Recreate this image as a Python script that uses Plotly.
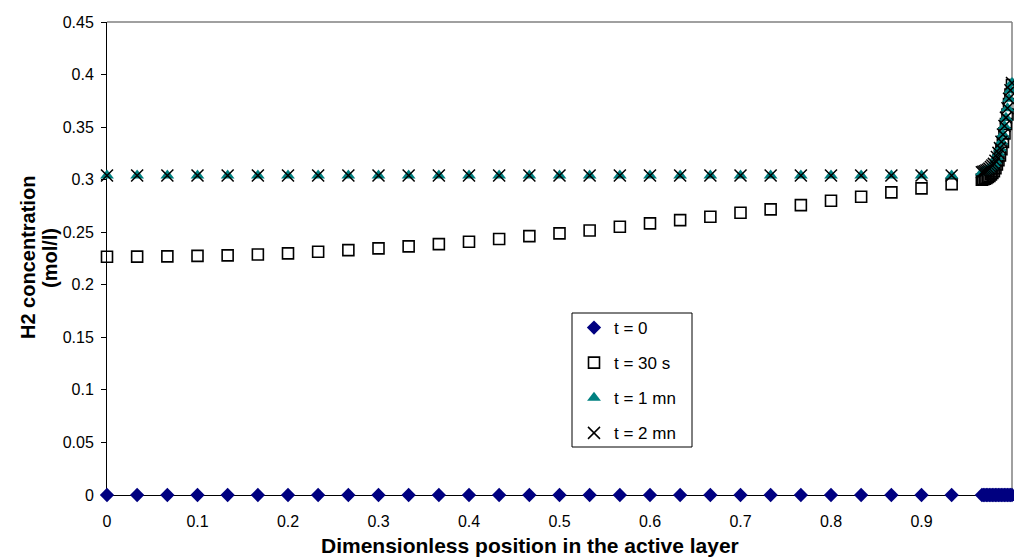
import plotly.graph_objects as go

# ---- data ----
x_coarse = [0.0000, 0.0333, 0.0667, 0.1000, 0.1333, 0.1667, 0.2000, 0.2333, 0.2667, 0.3000,
            0.3333, 0.3667, 0.4000, 0.4333, 0.4667, 0.5000, 0.5333, 0.5667, 0.6000, 0.6333,
            0.6667, 0.7000, 0.7333, 0.7667, 0.8000, 0.8333, 0.8667, 0.9000, 0.9333]
x_fine = [0.9667, 0.9683, 0.9700, 0.9717, 0.9733, 0.9750, 0.9767, 0.9783, 0.9800, 0.9817,
          0.9833, 0.9850, 0.9867, 0.9883, 0.9900, 0.9917, 0.9933, 0.9950, 0.9967, 0.9983, 1.0000]

c_t0_coarse = [0, 0, 0, 0, 0, 0, 0, 0, 0, 0, 0, 0, 0, 0, 0, 0, 0, 0, 0, 0,
               0, 0, 0, 0, 0, 0, 0, 0, 0]
c_t0_fine = [0, 0, 0, 0, 0, 0, 0, 0, 0, 0, 0, 0, 0, 0, 0, 0, 0, 0, 0, 0, 0]

c_30s_coarse = [0.2267, 0.2268, 0.2270, 0.2275, 0.2280, 0.2288, 0.2299, 0.2314, 0.2330, 0.2346,
                0.2365, 0.2387, 0.2410, 0.2435, 0.2463, 0.2489, 0.2517, 0.2552, 0.2584, 0.2615,
                0.2647, 0.2685, 0.2717, 0.2758, 0.2800, 0.2837, 0.2879, 0.2917, 0.2958]
c_30s_fine = [0.3000, 0.3005, 0.3010, 0.3017, 0.3025, 0.3035, 0.3050, 0.3065, 0.3080, 0.3110,
              0.3145, 0.3185, 0.3230, 0.3290, 0.3360, 0.3440, 0.3530, 0.3620, 0.3720, 0.3810, 0.3900]

c_1mn_coarse = [0.304, 0.304, 0.304, 0.304, 0.304, 0.304, 0.304, 0.304, 0.304, 0.304,
                0.304, 0.304, 0.304, 0.304, 0.304, 0.304, 0.304, 0.304, 0.304, 0.304,
                0.304, 0.304, 0.304, 0.304, 0.304, 0.304, 0.304, 0.304, 0.304]
c_1mn_fine = [0.3070, 0.3075, 0.3080, 0.3087, 0.3095, 0.3105, 0.3120, 0.3135, 0.3150, 0.3180,
              0.3215, 0.3255, 0.3300, 0.3360, 0.3430, 0.3510, 0.3590, 0.3680, 0.3770, 0.3850, 0.3920]

c_2mn_coarse = list(c_1mn_coarse)
c_2mn_fine = list(c_1mn_fine)

series_names = ["t = 0", "t = 30 s", "t = 1 mn", "t = 2 mn"]
x_ticks = [0, 0.1, 0.2, 0.3, 0.4, 0.5, 0.6, 0.7, 0.8, 0.9, 1]
y_ticks = [0, 0.05, 0.1, 0.15, 0.2, 0.25, 0.3, 0.35, 0.4, 0.45]

x_all = x_coarse + x_fine
series_values = [
    c_t0_coarse + c_t0_fine,
    c_30s_coarse + c_30s_fine,
    c_1mn_coarse + c_1mn_fine,
    c_2mn_coarse + c_2mn_fine,
]

FONT = "Liberation Sans, Arial, sans-serif"

markers = [
    dict(symbol="diamond", size=11, color="#000080", line=dict(width=0)),
    dict(symbol="square-open", size=11, color="#000000", line=dict(width=1.6, color="#000000")),
    dict(symbol="triangle-up", size=12, color="#008080", line=dict(width=0)),
    dict(symbol="x-thin-open", size=12, color="#000000", line=dict(width=1.5, color="#000000")),
]

fig = go.Figure()
for i, (name, vals) in enumerate(zip(series_names, series_values)):
    fig.add_trace(go.Scatter(
        x=x_all, y=vals, mode="markers", name=name, marker=markers[i],
        cliponaxis=False, legendgroup="g%d" % i,
    ))

# legend box in plot-area fractions
leg_x0, leg_x1 = (572 - 107) / 905, (692 - 107) / 905
leg_y0, leg_y1 = (495 - 447) / 473, (495 - 313) / 473

fig.update_layout(
    width=1014, height=560,
    margin=dict(l=107, r=2, t=22, b=65),
    plot_bgcolor="white", paper_bgcolor="white",
    font=dict(family=FONT, size=16, color="#000000"),
    showlegend=True,
    legend=dict(
        x=(574 - 107) / 905, y=(495 - 310) / 473, xanchor="left", yanchor="top",
        bgcolor="rgba(0,0,0,0)", borderwidth=0,
        font=dict(family=FONT, size=17, color="#000000"),
        tracegroupgap=10,
    ),
    xaxis=dict(
        range=[0, 1], tickvals=x_ticks, ticktext=[str(v) for v in x_ticks],
        showgrid=False, zeroline=False, showline=True, linecolor="#000000", linewidth=1,
        ticks="outside", ticklen=12, tickcolor="rgba(0,0,0,0)",
        layer="below traces",
    ),
    yaxis=dict(
        range=[0, 0.45], tickvals=y_ticks, ticktext=[("%g" % v) for v in y_ticks],
        showgrid=False, zeroline=False, showline=True, linecolor="#000000", linewidth=1,
        ticks="outside", ticklen=5, tickcolor="#000000",
        ticklabelstandoff=4,
        layer="below traces",
    ),
    yaxis2=dict(
        range=[0, 0.45], tickvals=y_ticks, overlaying="y", anchor="x", side="left",
        showticklabels=False, showgrid=False, zeroline=False, showline=False,
        ticks="inside", ticklen=5, tickcolor="#000000",
    ),
    shapes=[
        dict(type="line", xref="paper", yref="paper", x0=0, x1=1, y0=1, y1=1,
             line=dict(color="#808080", width=1.5), layer="below"),
        dict(type="line", xref="paper", yref="paper", x0=1, x1=1, y0=0, y1=1,
             line=dict(color="#808080", width=1.5), layer="below"),
        dict(type="rect", xref="paper", yref="paper", x0=leg_x0, x1=leg_x1, y0=leg_y0, y1=leg_y1,
             line=dict(color="#000000", width=1), fillcolor="white", layer="below"),
    ],
    annotations=[
        dict(text="<b>Dimensionless position in the active layer</b>", xref="paper", yref="paper",
             x=(530 - 107) / 905, y=(495 - 545) / 473, xanchor="center", yanchor="middle",
             showarrow=False, font=dict(family=FONT, size=21, color="#000000")),
        dict(text="<b>H2 concentration</b>", xref="paper", yref="paper",
             x=0, xshift=-79, y=(495 - 258) / 473, xanchor="center", yanchor="middle",
             textangle=-90, showarrow=False, font=dict(family=FONT, size=20, color="#000000")),
        dict(text="<b>(mol/l)</b>", xref="paper", yref="paper",
             x=0, xshift=-57, y=(495 - 258) / 473, xanchor="center", yanchor="middle",
             textangle=-90, showarrow=False, font=dict(family=FONT, size=20, color="#000000")),
    ],
)

fig.write_html("out.html")
